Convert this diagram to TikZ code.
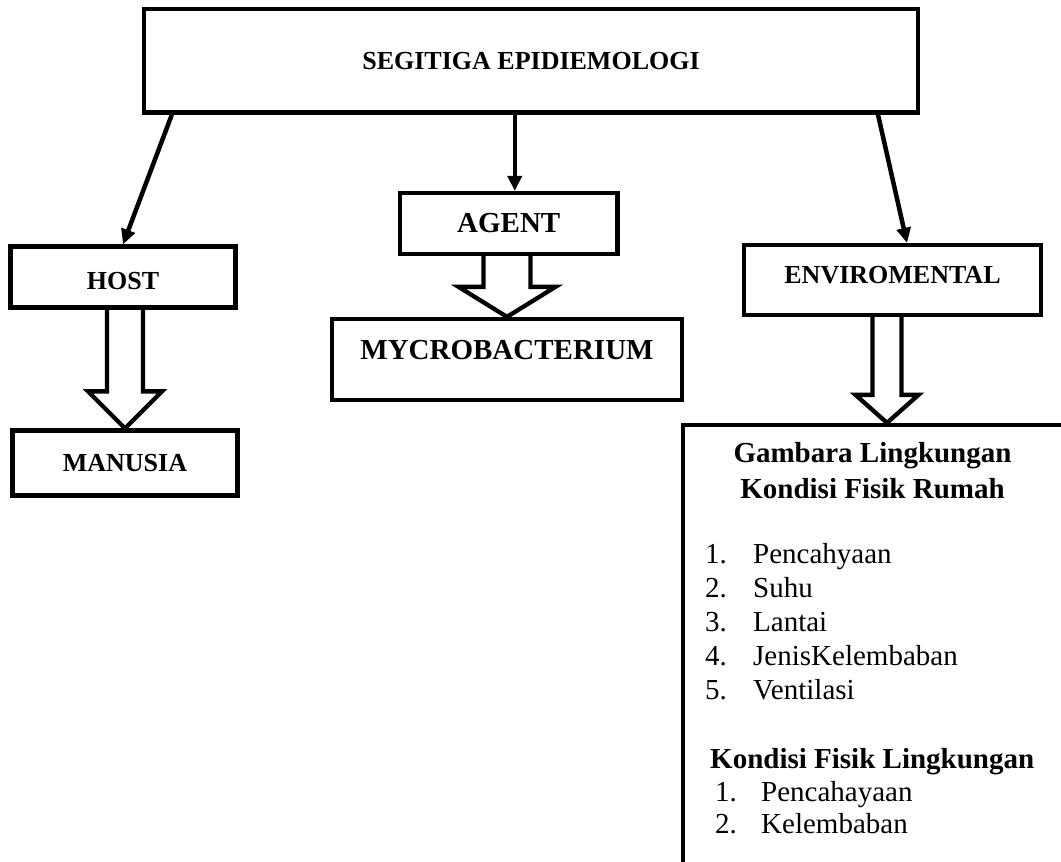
\documentclass[tikz,border=0pt]{standalone}
\usepackage{fontspec}
\setmainfont{Liberation Serif}
\usetikzlibrary{arrows.meta,calc}

\newcommand{\fatarrow}[5]{\draw[fat] let \p1=#1, \p2=#2 in
    (\x2-#3,\y1) -- (\x2-#3,\y2+#5) -- (\x2-#4,\y2+#5) -- (\x2,\y2)
    -- (\x2+#4,\y2+#5) -- (\x2+#3,\y2+#5) -- (\x2+#3,\y1);}

\begin{document}
\begin{tikzpicture}[x=1pt,y=-1pt,
    box/.style={draw,line width=4.3pt,inner sep=0pt},
    capsA/.style={font=\bfseries\fontsize{26}{30}\selectfont},
    capsB/.style={font=\bfseries\fontsize{29}{34}\selectfont},
    txt/.style={inner sep=0pt,font=\fontsize{29}{34}\selectfont},
    head/.style={inner sep=0pt,font=\bfseries\fontsize{29}{34}\selectfont},
    link/.style={line width=4.5pt,-{Triangle[length=15pt,width=14pt]}},
    fat/.style={line width=4.3pt,line join=miter}]

    \useasboundingbox (0,0) rectangle (1061,862);
    \clip (0,0) rectangle (1061,862);

    \node[box,capsA,minimum width=774pt,minimum height=103.5pt] (seg) at (531,60.75) {SEGITIGA EPIDIEMOLOGI};
    \node[box,capsA,minimum width=225pt,minimum height=61pt,text height=25pt] (host) at (123,277) {HOST};
    \node[box,capsA,minimum width=225pt,minimum height=65pt] (manusia) at (125,463) {MANUSIA};
    \node[box,capsB,minimum width=217.5pt,minimum height=61pt] (agent) at (508.75,223.5) {AGENT};
    \node[box,capsB,minimum width=350pt,minimum height=81pt,text depth=20pt] (myco) at (507,359.5) {MYCROBACTERIUM};
    \node[box,capsA,minimum width=297pt,minimum height=70pt,text depth=11pt] (env) at (892.5,280) {ENVIROMENTAL};
    \node[box,minimum width=417pt,minimum height=475pt] (fisik) at (891.5,662.5) {};

    \draw[link] ([xshift=30pt]seg.south west) -- (host.north);
    \draw[link] ($(agent.north |- seg.south)+(6,0)$) -- ($(agent.north)+(6,0)$);
    \draw[link] ($(env.north |- seg.south)+(-14.5,0)$) -- ($(env.north)+(14.5,0)$);

    \fatarrow{(host.south)}{(manusia.north)}{18pt}{37pt}{37pt}
    \fatarrow{(agent.south)}{(myco.north)}{23.5pt}{48.5pt}{30pt}
    \fatarrow{(env.south)}{($(env.south |- fisik.north)+(-5.5,0)$)}{14.5pt}{31.5pt}{28pt}

    \node[head,anchor=base] (judul1) at (872.5,462) {Gambara Lingkungan};
    \node[head,anchor=base] (judul2) at (872.5,498) {Kondisi Fisik Rumah};
    \foreach \t [count=\k] in {Pencahyaan,Suhu,Lantai,JenisKelembaban,Ventilasi}{
        \node[txt,anchor=base west] (no\k) at (705,529+34*\k) {\k.};
        \node[txt,anchor=base west] (item\k) at (753,529+34*\k) {\t};
    }

    \node[head,anchor=base west] (judul3) at (710,768) {Kondisi Fisik Lingkungan};
    \foreach \t [count=\k] in {Pencahayaan,Kelembaban}{
        \node[txt,anchor=base west] (nl\k) at (715,769+32*\k) {\k.};
        \node[txt,anchor=base west] (il\k) at (761,769+32*\k) {\t};
    }

\end{tikzpicture}
\end{document}
